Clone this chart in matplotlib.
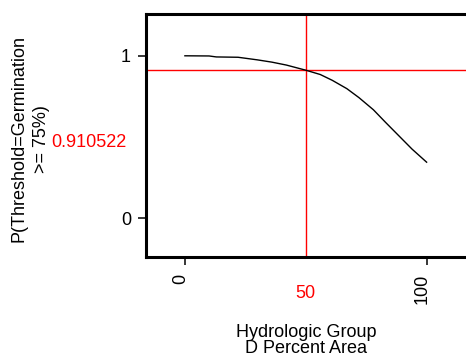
import matplotlib
matplotlib.use("Agg")
import matplotlib.pyplot as plt
from matplotlib.transforms import blended_transform_factory

plt.rcParams['font.family'] = ['Liberation Sans', 'DejaVu Sans']

pct_area = [0, 10, 13, 22, 25, 30, 36, 42, 50, 56, 61, 67, 72, 78, 83, 89, 94, 100]
prob = [0.999, 0.998, 0.992, 0.990, 0.984, 0.974, 0.960, 0.942, 0.910522, 0.884,
        0.848, 0.797, 0.742, 0.667, 0.590, 0.500, 0.425, 0.345]
x_current = 50
y_current = 0.910522
x_ticks = [0, 100]
x_ticklabels = ["0", "100"]
y_ticks = [0, 1]
y_ticklabels = ["0", "1"]
ylabel_lines = ["P(Threshold=Germination", ">= 75%)"]
xlabel_lines = ["Hydrologic Group", "D Percent Area"]

W, H = 466, 356
fig = plt.figure(figsize=(W / 100, H / 100), dpi=100)
ax = fig.add_axes([146 / W, (H - 257) / H, (W - 146) / W, (257 - 14) / H])

ax.plot(pct_area, prob, color='black', lw=1.0, zorder=3)
ax.axvline(x_current, color='#ff0000', lw=1.0, zorder=2)
ax.axhline(y_current, color='#ff0000', lw=1.0, zorder=2)

ax.set_xlim(-16.1, 116.3)
ax.set_ylim(-0.238, 1.256)

for side in ['left', 'top', 'bottom']:
    ax.spines[side].set_linewidth(2.2)
ax.spines['right'].set_visible(False)

ax.set_yticks(y_ticks, y_ticklabels)
ax.set_xticks(x_ticks, x_ticklabels)
ax.tick_params(axis='both', direction='out', length=5.8, width=1.1,
               labelsize=13, color='black')
ax.tick_params(axis='y', pad=5)
ax.tick_params(axis='x', pad=6.5)
for lab in ax.get_xticklabels():
    lab.set_rotation(90)
    lab.set_rotation_mode('anchor')
    lab.set_horizontalalignment('right')
    lab.set_verticalalignment('baseline')

# Y label (two lines)
fig.text(19.5 / W, (H - 139) / H, ylabel_lines[0], rotation=90,
         ha='center', va='center', fontsize=13)
fig.text(41.5 / W, (H - 139) / H, ylabel_lines[1], rotation=90,
         ha='center', va='center', fontsize=13)

# Current value readout
fig.text(127 / W, (H - 147) / H, f"{y_current:.6f}", color='#ff0000',
         ha='right', va='baseline', fontsize=13)

# Current x value
trans = blended_transform_factory(ax.transData, fig.transFigure)
ax.text(x_current, (H - 298) / H, f"{x_current}", transform=trans,
        color='#ff0000', ha='center', va='baseline', fontsize=13, clip_on=False)

# X label
fig.text(306 / W, (H - 337) / H, xlabel_lines[0], ha='center', va='baseline', fontsize=13)
fig.text(306 / W, (H - 353) / H, xlabel_lines[1], ha='center', va='baseline', fontsize=13)

fig.savefig("out.png", dpi=100)
